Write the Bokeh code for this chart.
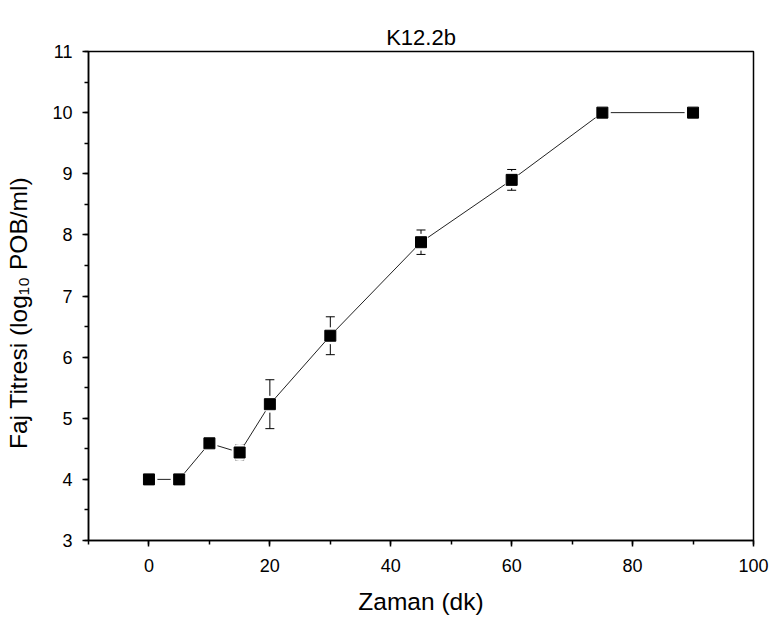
import numpy as np
from bokeh.plotting import figure
from bokeh.models import (ColumnDataSource, Whisker, TeeHead, SingleIntervalTicker, Range1d, Title,
                          LinearAxis, FixedTicker)
from bokeh.embed import file_html
from bokeh.resources import INLINE

# ---- data ----
time_min = [0, 5, 10, 15, 20, 30, 45, 60, 75, 90]
titer_log10 = [4.0, 4.0, 4.59, 4.44, 5.23, 6.35, 7.88, 8.90, 10.0, 10.0]
titer_err = [0.0, 0.0, 0.07, 0.12, 0.40, 0.31, 0.20, 0.17, 0.0, 0.0]

title_text = "K12.2b"
x_label = "Zaman (dk)"
y_label = "Faj Titresi (log\u2081\u2080 POB/ml)"

FONT = "Liberation Sans"
X0, X1, Y0, Y1 = -10, 100, 3, 11
W, H = 771, 624
BL, BR, BT, BB = 88, 18, 51, 84

p = figure(width=W, height=H, output_backend="svg", toolbar_location=None,
           x_range=Range1d(X0, X1), y_range=Range1d(Y0, Y1),
           min_border_left=BL, min_border_right=BR, min_border_top=BT, min_border_bottom=BB)

p.background_fill_color = "white"
p.border_fill_color = "white"
p.outline_line_color = "black"
p.outline_line_width = 1.5
p.grid.visible = False

xax = p.below[0]
yax = p.left[0]

# empty, invisible top axis used only as a spacer between the frame and the title
spacer_axis = LinearAxis(ticker=FixedTicker(ticks=[], minor_ticks=[]), axis_line_color=None,
                         major_tick_out=20, major_tick_in=0, minor_tick_out=0, minor_tick_in=0,
                         major_tick_line_color=None, minor_tick_line_color=None,
                         major_label_standoff=0)
p.add_layout(spacer_axis, "above")
main_title = Title(text=title_text, align="center", text_font=FONT, text_font_size="22px",
                   text_font_style="normal", text_color="black", standoff=4)
p.add_layout(main_title, "above")

xax.ticker = SingleIntervalTicker(interval=20, num_minor_ticks=2)
yax.ticker = SingleIntervalTicker(interval=1, num_minor_ticks=2)
xax.axis_label = x_label
yax.axis_label = y_label + "\u00a0" * 5
xax.axis_label_standoff = 13
yax.axis_label_standoff = 17

for ax in (xax, yax):
    ax.axis_line_width = 1.5
    ax.axis_line_color = "black"
    ax.major_tick_line_width = 1.5
    ax.minor_tick_line_width = 1.5
    ax.major_tick_line_color = "black"
    ax.minor_tick_line_color = "black"
    ax.major_tick_out = 6
    ax.major_tick_in = 0
    ax.minor_tick_out = 4
    ax.minor_tick_in = 0
    ax.major_label_text_font = FONT
    ax.major_label_text_font_size = "18px"
    ax.major_label_text_color = "black"
    ax.axis_label_text_font = FONT
    ax.axis_label_text_font_size = "24.5px"
    ax.axis_label_text_font_style = "normal"
    ax.axis_label_text_color = "black"
xax.major_label_standoff = 12
yax.major_label_standoff = 10

src = ColumnDataSource(dict(x=time_min, y=titer_log10))
ex = [t for t, e in zip(time_min, titer_err) if e > 0]
ey_u = [v + e for v, e in zip(titer_log10, titer_err) if e > 0]
ey_l = [v - e for v, e in zip(titer_log10, titer_err) if e > 0]
err_src = ColumnDataSource(dict(x=ex, upper=ey_u, lower=ey_l))

p.line("x", "y", source=src, line_color="#222222", line_width=1)
# white halo gives the gap between the connecting line and each marker
p.scatter("x", "y", source=src, marker="circle", size=17, fill_color="white", line_color=None)
w = Whisker(source=err_src, base="x", upper="upper", lower="lower", dimension="height",
            line_color="black", line_width=1,
            upper_head=TeeHead(size=9, line_color="black", line_width=1),
            lower_head=TeeHead(size=9, line_color="black", line_width=1))
p.add_layout(w)
p.scatter("x", "y", source=src, marker="square", size=11, fill_color="black", line_color="black")

open("out.html", "w").write(file_html(p, INLINE))
